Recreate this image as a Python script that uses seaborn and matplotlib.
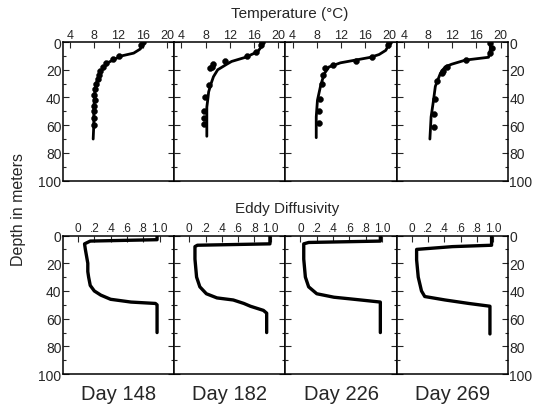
import numpy as np
import pandas as pd
import seaborn as sns
import matplotlib.pyplot as plt
from matplotlib.ticker import MultipleLocator

days = ["Day 148", "Day 182", "Day 226", "Day 269"]

# temperature model profiles (line)
t148_depth = [0, 2, 5, 8, 10, 12, 15, 20, 25, 30, 35, 40, 50, 60, 70]
t148_temp = [16.0, 15.9, 15.6, 14.5, 12.5, 11.5, 10.2, 9.3, 8.7, 8.3, 8.1, 8.0, 7.9, 7.9, 7.8]
t182_depth = [0, 3, 7, 11, 14, 16, 20, 25, 30, 36, 40, 47, 56, 68]
t182_temp = [17.4, 17.3, 16.6, 14.6, 12.3, 11.5, 10.0, 9.3, 8.9, 8.5, 8.4, 8.2, 8.2, 8.2]
t226_depth = [0, 2, 6, 9, 11, 13, 15, 18, 23, 32, 42, 54, 69]
t226_temp = [20.0, 19.9, 19.4, 18.3, 16.9, 14.4, 11.9, 10.0, 9.2, 8.6, 8.1, 7.9, 7.9]
t269_depth = [0, 3, 5, 8, 11, 13, 16, 18, 23, 32, 42, 54, 70]
t269_temp = [18.3, 18.3, 18.3, 18.2, 18.0, 14.2, 11.9, 10.8, 10.0, 9.2, 8.9, 8.5, 8.3]

# observed temperatures (dots)
o148_depth = [0, 2, 10, 12, 15, 18, 21, 24, 27, 30, 34, 38, 42, 46, 50, 55, 60]
o148_temp = [16.0, 15.7, 12.0, 11.0, 10.0, 9.5, 9.0, 8.8, 8.6, 8.3, 8.1, 8.0, 8.1, 7.9, 7.9, 7.9, 7.9]
o182_depth = [0, 2, 7, 10, 13.5, 16, 18, 19, 31, 40, 50, 55, 59]
o182_temp = [17.4, 17.2, 16.4, 14.9, 11.2, 9.3, 9.0, 8.8, 8.5, 7.9, 7.8, 7.7, 7.8]
o226_depth = [0, 2, 11, 14, 16.5, 19, 24, 30, 41, 50, 58.6]
o226_temp = [20.0, 19.8, 17.2, 14.4, 10.6, 9.4, 9.0, 8.8, 8.6, 8.4, 8.4]
o269_depth = [1, 4, 8, 13, 18, 21, 22, 28, 41, 52, 61]
o269_temp = [18.3, 18.5, 18.2, 14.2, 11.1, 10.5, 10.3, 9.4, 9.2, 8.9, 8.9]

# eddy diffusivity profiles
k148_depth = [0, 3, 4, 6, 10, 20, 26, 30, 36, 40, 43, 46, 48, 49, 50, 60, 70]
k148_val = [0.97, 0.97, 0.15, 0.08, 0.09, 0.12, 0.12, 0.13, 0.15, 0.2, 0.28, 0.4, 0.65, 0.95, 0.97, 0.97, 0.97]
k182_depth = [0, 6, 7, 8, 17, 30, 37, 42, 45, 46.5, 49, 51, 54, 56, 70]
k182_val = [0.99, 0.99, 0.1, 0.07, 0.07, 0.09, 0.13, 0.21, 0.34, 0.54, 0.67, 0.75, 0.91, 0.95, 0.95]
k226_depth = [0, 4, 5, 6, 17, 30, 37, 42, 44.5, 45.7, 47, 48, 70]
k226_val = [0.98, 0.98, 0.1, 0.04, 0.04, 0.06, 0.1, 0.2, 0.41, 0.61, 0.82, 0.98, 0.98]
k269_depth = [0, 7, 8, 10, 17.5, 30, 40, 44, 46.5, 49, 51, 71]
k269_val = [0.98, 0.98, 0.5, 0.06, 0.06, 0.08, 0.12, 0.16, 0.41, 0.7, 0.96, 0.96]

temp_lines = [(t148_temp, t148_depth), (t182_temp, t182_depth), (t226_temp, t226_depth), (t269_temp, t269_depth)]
temp_obs = [(o148_temp, o148_depth), (o182_temp, o182_depth), (o226_temp, o226_depth), (o269_temp, o269_depth)]
k_lines = [(k148_val, k148_depth), (k182_val, k182_depth), (k226_val, k226_depth), (k269_val, k269_depth)]

sns.set_style("ticks")
plt.rcParams['font.family'] = ['Liberation Sans', 'DejaVu Sans']

fig, axes = plt.subplots(2, 4, figsize=(5.38, 4.06), dpi=100)
fig.subplots_adjust(left=0.117, right=0.944, top=0.894, bottom=0.076, wspace=0, hspace=0.396)

for i in range(4):
    ax = axes[0, i]
    tx, ty = temp_lines[i]
    sns.lineplot(x=tx, y=ty, sort=False, estimator=None, color="black", linewidth=2, ax=ax)
    ox, oy = temp_obs[i]
    sns.scatterplot(x=ox, y=oy, color="black", s=18, edgecolor="black", ax=ax)
    ax.set_xlim(2.8, 21.2)
    ax.set_xticks([4, 8, 12, 16, 20])
    ax.tick_params(axis="x", labelsize=9)

    ax = axes[1, i]
    kx, ky = k_lines[i]
    sns.lineplot(x=kx, y=ky, sort=False, estimator=None, color="black", linewidth=2.4, ax=ax)
    ax.set_xlim(-0.185, 1.18)
    ax.set_xticks([0, 0.2, 0.4, 0.6, 0.8, 1.0])
    ax.set_xticklabels(["0", ".2", ".4", ".6", ".8", "1.0"])
    ax.text(0.5, -0.07, days[i], transform=ax.transAxes, ha="center", va="top", fontsize=14.5)

for ax in axes.flat:
    ax.set_ylim(100, 0)
    ax.set_yticks([0, 20, 40, 60, 80, 100])
    ax.yaxis.set_minor_locator(MultipleLocator(10))
    ax.xaxis.tick_top()
    ax.tick_params(axis="both", which="both", direction="in", top=True, bottom=False,
                   left=True, right=True, labelleft=False, labelright=False,
                   labeltop=True, labelbottom=False, pad=1, length=4, width=0.8)
    ax.tick_params(axis="y", which="minor", length=2.5)
    ax.set_xlabel("")
    ax.set_ylabel("")
    for sp in ax.spines.values():
        sp.set_linewidth(1.1)
        sp.set_color("black")

for ax in axes[1]:
    ax.tick_params(axis="x", labelsize=8.5)

for r in range(2):
    axes[r, 0].tick_params(axis="y", labelleft=True, labelsize=10)
    axes[r, 3].tick_params(axis="y", labelright=True, labelsize=10)

fig.text(0.538, 0.966, "Temperature (°C)", ha="center", va="center", fontsize=11)
fig.text(0.533, 0.485, "Eddy Diffusivity", ha="center", va="center", fontsize=11)
fig.text(0.035, 0.485, "Depth in meters", ha="center", va="center", rotation=90, fontsize=11.5)

plt.savefig("out.png", dpi=100)
